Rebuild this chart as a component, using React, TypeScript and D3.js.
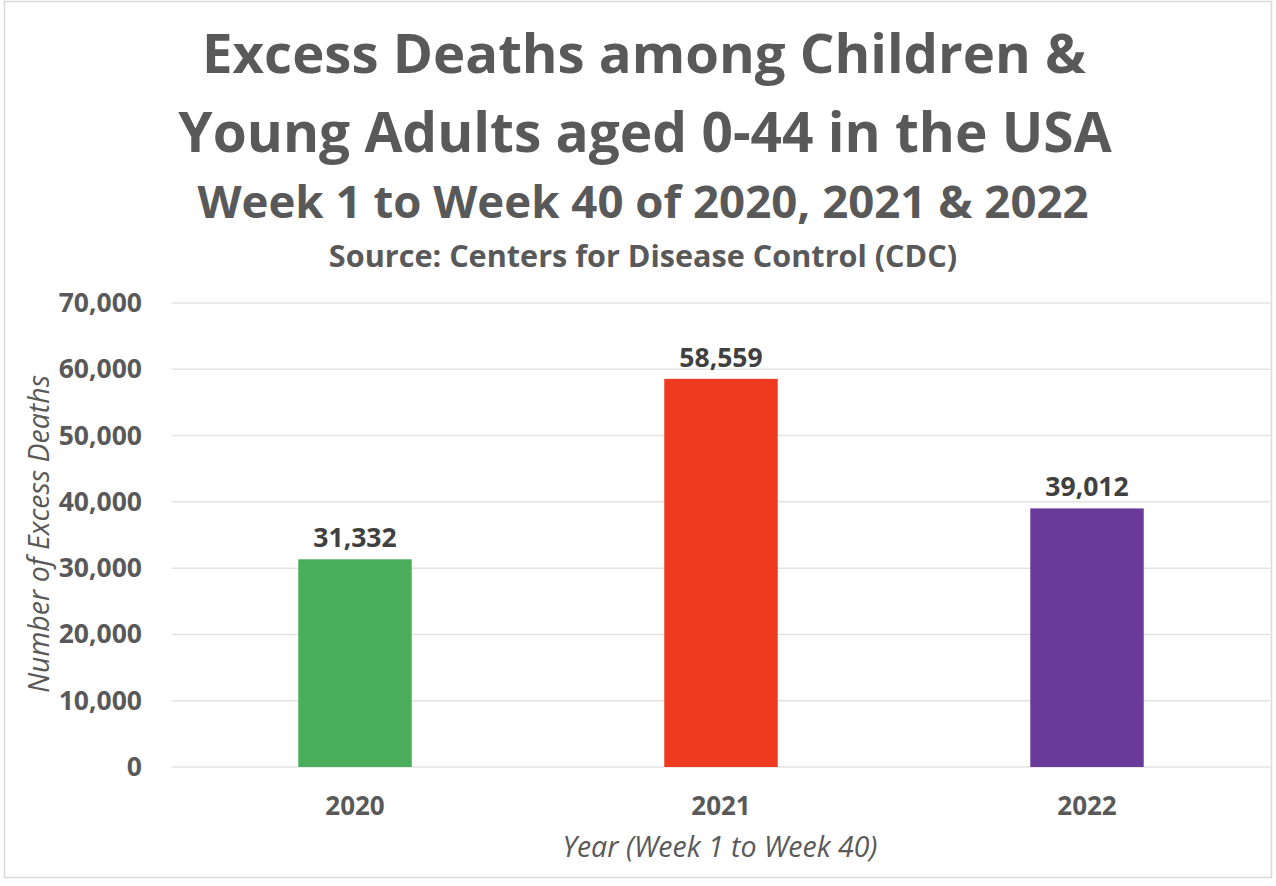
import React from "react";
import * as d3 from "d3";

const years = ["2020", "2021", "2022"];
const deaths = [31332, 58559, 39012];
const barColors = ["#4AAD5B", "#EE3A1F", "#693A9A"];
const yTicks = [0, 10000, 20000, 30000, 40000, 50000, 60000, 70000];
const titleLines = ["Excess Deaths among Children &", "Young Adults aged 0-44 in the USA"];
const subtitle = "Week 1 to Week 40 of 2020, 2021 & 2022";
const source = "Source: Centers for Disease Control (CDC)";
const xTitle = "Year (Week 1 to Week 40)";
const yTitle = "Number of Excess Deaths";

const W = 1276;
const H = 886;
const font = "'Open Sans', 'Noto Sans', sans-serif";

export default function App() {
  const plot = { left: 172, right: 1270, top: 303, bottom: 767 };
  const x = d3.scaleBand<string>().domain(years).range([plot.left, plot.right]).paddingInner(0.69).paddingOuter(0.345);
  const y = d3.scaleLinear().domain([0, 70000]).range([plot.bottom, plot.top]);
  const fmt = d3.format(",");
  return (
    <svg width={W} height={H} style={{ position: "absolute", left: 0, top: 0, background: "#fff" }} fontFamily={font}>
      <rect x={4.5} y={1.5} width={1267} height={876} fill="#fff" stroke="#D9D9D9" strokeWidth={1.5} />
      <text x={644} y={73} textAnchor="middle" fontSize={54.5} fontWeight={700} fill="#595959">{titleLines[0]}</text>
      <text x={645} y={152} textAnchor="middle" fontSize={55} fontWeight={700} fill="#595959">{titleLines[1]}</text>
      <text x={643} y={218} textAnchor="middle" fontSize={45.6} fontWeight={700} fill="#595959">{subtitle}</text>
      <text x={643} y={267} textAnchor="middle" fontSize={30.6} fontWeight={700} fill="#595959">{source}</text>
      {yTicks.map((t) => (
        <g key={t}>
          <line x1={plot.left} x2={plot.right} y1={y(t)} y2={y(t)} stroke="#E3E3E3" strokeWidth={1.5} />
          <text x={142} y={y(t) + 9} textAnchor="end" fontSize={26.5} fontWeight={700} fill="#595959">{fmt(t)}</text>
        </g>
      ))}
      {years.map((yr, i) => (
        <g key={yr}>
          <rect x={x(yr)} y={y(deaths[i])} width={x.bandwidth()} height={y(0) - y(deaths[i])} fill={barColors[i]} />
          <text x={(x(yr) as number) + x.bandwidth() / 2} y={y(deaths[i]) - 12} textAnchor="middle" fontSize={26.5} fontWeight={700} fill="#404040">{fmt(deaths[i])}</text>
          <text x={(x(yr) as number) + x.bandwidth() / 2} y={815} textAnchor="middle" fontSize={26} fontWeight={700} fill="#595959">{yr}</text>
        </g>
      ))}
      <text x={720} y={857} textAnchor="middle" fontSize={28.5} fontStyle="italic" fill="#595959">{xTitle}</text>
      <text transform="translate(49,534) rotate(-90)" textAnchor="middle" fontSize={28.5} fontStyle="italic" fill="#595959">{yTitle}</text>
    </svg>
  );
}
